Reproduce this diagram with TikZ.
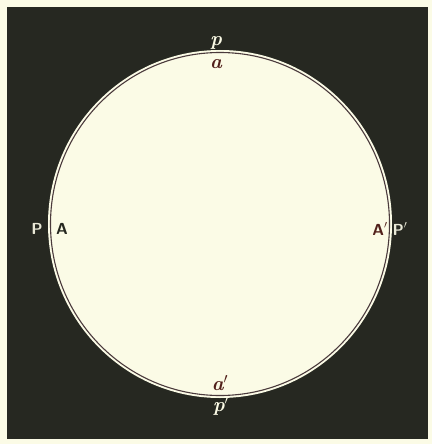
\documentclass[tikz,border=0pt]{standalone}
\begin{document}
\begin{tikzpicture}[x=1pt,y=-1pt,
  lab/.style={inner sep=0pt, anchor=center},
  ital/.style={lab, font=\fontsize{20}{20}\selectfont\bfseries\itshape},
  sans/.style={lab, font=\fontsize{16}{16}\selectfont\sffamily\bfseries}]
\definecolor{cream}{HTML}{FBFBE6}
\definecolor{bgdark}{HTML}{262821}
\definecolor{ring}{HTML}{4A3A3C}
\useasboundingbox (0,0) rectangle (432,444);
\fill[cream] (0,0) rectangle (432,444);
\fill[bgdark] (7,7) rectangle (428,439);
\fill[cream] (220,224) ellipse [x radius=172, y radius=174];
\draw[ring, line width=1.1pt] (220,224) ellipse [x radius=169.5, y radius=171.5];
\node[ital, text=cream] (p) at (216,43) {p};
\node[ital, text=bgdark!80!red] (a) at (216,64) {a};
\node[ital, text=bgdark!80!red] (a2) at (220,383) {a$'$};
\node[ital, text=cream] (p2) at (221,406) {p$'$};
\node[sans, text=cream!85!gray] (P) at (37,229) {P};
\node[sans, text=bgdark] (A) at (62,229) {A};
\node[sans, text=bgdark!80!red] (A2) at (380,229) {A$'$};
\node[sans, text=cream!85!gray] (P2) at (400,229) {P$'$};
\end{tikzpicture}
\end{document}
